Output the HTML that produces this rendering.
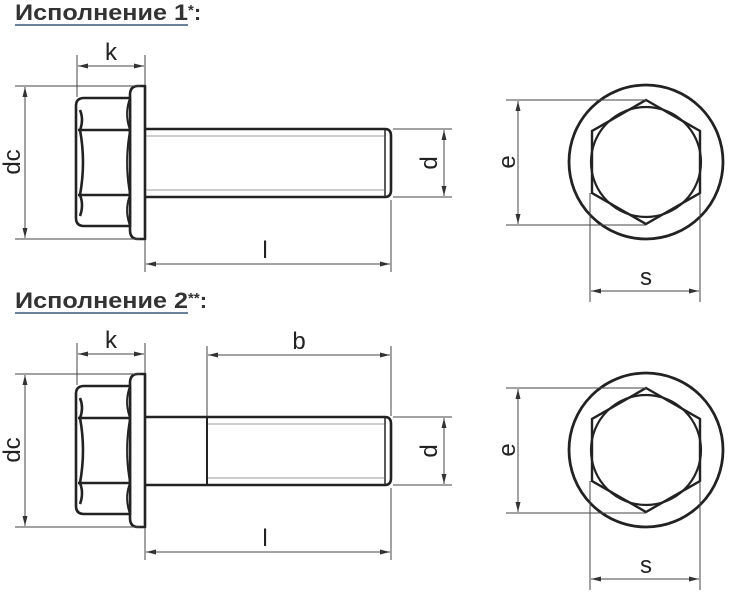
<!DOCTYPE html>
<html><head><meta charset="utf-8"><style>
body{margin:0;background:#fff}
svg{display:block}
.t{font-family:"Liberation Sans","DejaVu Sans",sans-serif;font-weight:bold;font-size:22px;fill:#333}
.l{font-family:"Liberation Sans",sans-serif;font-size:24px;fill:#222}
</style></head><body>
<svg width="738" height="604" viewBox="0 0 738 604" xmlns="http://www.w3.org/2000/svg">
<defs>
<marker id="a" viewBox="0 0 10 6" refX="10" refY="3" markerWidth="10" markerHeight="6" orient="auto-start-reverse" markerUnits="userSpaceOnUse"><path d="M0,0.5 L10,3 L0,5.5z" fill="#333"/></marker>
<g id="side">
 <g fill="none" stroke="#222" stroke-width="2.6" stroke-linejoin="round">
  <path d="M76,106 Q76,98 84,98 L130,98 L130,226 L84,226 Q76,226 76,218 Z"/>
  <line x1="78" y1="130" x2="130" y2="130"/><line x1="78" y1="195" x2="130" y2="195"/>
  <path d="M80,110 Q84,120 80,130 M80,130 Q86,162 80,195 M80,195 Q84,205 80,216"/>
  <path d="M130,98 Q124,114 130,130 Q124,162 130,195 Q124,210 130,226" stroke-width="1.8"/>
  <path d="M138,86 L145,86 L145,239 L138,239 Q130,239 130,230 L130,95 Q130,86 138,86Z"/>
 </g>
</g>
<g id="dims1" stroke="#444" stroke-width="1" fill="none">
 <line x1="15" y1="86" x2="140" y2="86"/><line x1="15" y1="239" x2="140" y2="239"/>
 <line x1="25" y1="87" x2="25" y2="238" marker-start="url(#a)" marker-end="url(#a)"/>
 <line x1="77" y1="55" x2="77" y2="97"/><line x1="145" y1="55" x2="145" y2="85"/>
 <line x1="78" y1="66" x2="144" y2="66" marker-start="url(#a)" marker-end="url(#a)"/>
 <line x1="145" y1="240" x2="145" y2="272"/><line x1="391" y1="200" x2="391" y2="272"/>
 <line x1="146" y1="264" x2="390" y2="264" marker-start="url(#a)" marker-end="url(#a)"/>
 <line x1="393" y1="129" x2="452" y2="129"/><line x1="393" y1="197" x2="452" y2="197"/>
 <line x1="444" y1="130" x2="444" y2="196" marker-start="url(#a)" marker-end="url(#a)"/>
</g>
<g id="top">
 <circle cx="646" cy="162" r="77" fill="none" stroke="#222" stroke-width="2.8"/>
 <polygon points="646,100 700,131 700,193 646,224 592,193 592,131" fill="none" stroke="#222" stroke-width="2.4"/>
 <circle cx="646" cy="162" r="55" fill="none" stroke="#222" stroke-width="2.2"/>
 <g stroke="#444" stroke-width="1" fill="none">
  <line x1="506" y1="100" x2="646" y2="100"/><line x1="506" y1="225" x2="646" y2="225"/>
  <line x1="518" y1="101" x2="518" y2="224" marker-start="url(#a)" marker-end="url(#a)"/>
  <line x1="590" y1="193" x2="590" y2="302"/><line x1="700" y1="193" x2="700" y2="302"/>
  <line x1="591" y1="291" x2="699" y2="291" marker-start="url(#a)" marker-end="url(#a)"/>
 </g>
 <text class="l" x="646" y="285" text-anchor="middle">s</text>
 <text class="l" transform="translate(515,162) rotate(-90)" text-anchor="middle">e</text>
</g>
</defs>

<!-- View 1 -->
<text class="t" y="20"><tspan x="15" textLength="173" lengthAdjust="spacingAndGlyphs">Исполнение 1</tspan><tspan font-size="15" dy="-5">*</tspan><tspan dy="5">:</tspan></text>
<line x1="15" y1="25" x2="188" y2="25" stroke="#3a5a78" stroke-width="1.5"/>
<use href="#side"/>
<g fill="none" stroke="#222" stroke-width="2.6">
 <path d="M145,129 L385,129 Q391,129 391,136 L391,190 Q391,197 385,197 L145,197"/>
 <line x1="385" y1="130" x2="385" y2="196" stroke-width="1.5"/>
</g>
<g stroke="#999" stroke-width="1"><line x1="146" y1="136" x2="384" y2="136"/><line x1="146" y1="190" x2="384" y2="190"/></g>
<use href="#dims1"/>
<text class="l" x="111" y="60" text-anchor="middle">k</text>
<text class="l" x="265" y="258" text-anchor="middle">l</text>
<text class="l" transform="translate(20,162) rotate(-90)" text-anchor="middle">dc</text>
<text class="l" transform="translate(437,163) rotate(-90)" text-anchor="middle">d</text>
<use href="#top"/>

<!-- View 2 -->
<text class="t" y="308"><tspan x="15" textLength="173" lengthAdjust="spacingAndGlyphs">Исполнение 2</tspan><tspan font-size="15" dy="-5">**</tspan><tspan dy="5">:</tspan></text>
<line x1="15" y1="313" x2="188" y2="313" stroke="#3a5a78" stroke-width="1.5"/>
<g transform="translate(0,288)">
 <use href="#side"/>
 <g fill="none" stroke="#222" stroke-width="2.6">
  <path d="M145,129 L385,129 Q391,129 391,136 L391,190 Q391,197 385,197 L145,197"/>
  <line x1="385" y1="130" x2="385" y2="196" stroke-width="1.5"/>
  <line x1="207" y1="129" x2="207" y2="197" stroke-width="2"/>
 </g>
 <g stroke="#999" stroke-width="1"><line x1="208" y1="136" x2="384" y2="136"/><line x1="208" y1="190" x2="384" y2="190"/></g>
 <use href="#dims1"/>
 <g stroke="#444" stroke-width="1" fill="none">
  <line x1="207" y1="58" x2="207" y2="128"/><line x1="391" y1="58" x2="391" y2="128"/>
  <line x1="208" y1="67" x2="390" y2="67" marker-start="url(#a)" marker-end="url(#a)"/>
 </g>
 <text class="l" x="111" y="60" text-anchor="middle">k</text>
 <text class="l" x="299" y="61" text-anchor="middle">b</text>
 <text class="l" x="265" y="258" text-anchor="middle">l</text>
 <text class="l" transform="translate(20,162) rotate(-90)" text-anchor="middle">dc</text>
 <text class="l" transform="translate(437,163) rotate(-90)" text-anchor="middle">d</text>
 <use href="#top"/>
</g>
</svg>
</body></html>
